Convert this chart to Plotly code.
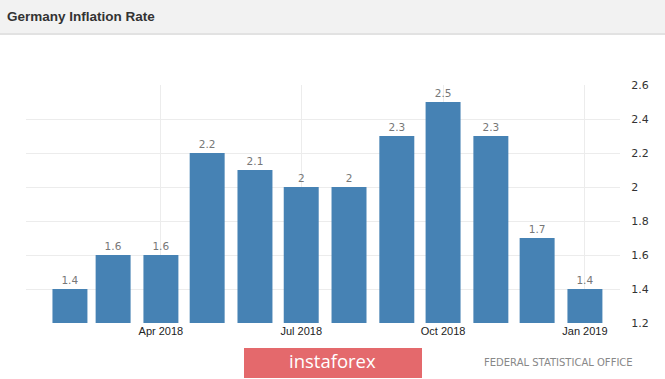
import plotly.graph_objects as go

months = ["2018-02-01", "2018-03-01", "2018-04-01", "2018-05-01", "2018-06-01", "2018-07-01",
          "2018-08-01", "2018-09-01", "2018-10-01", "2018-11-01", "2018-12-01", "2019-01-01"]
values = [1.4, 1.6, 1.6, 2.2, 2.1, 2.0, 2.0, 2.3, 2.5, 2.3, 1.7, 1.4]
value_labels = ["1.4", "1.6", "1.6", "2.2", "2.1", "2", "2", "2.3", "2.5", "2.3", "1.7", "1.4"]
y_ticks = [1.2, 1.4, 1.6, 1.8, 2.0, 2.2, 2.4, 2.6]
y_tick_labels = ["1.2", "1.4", "1.6", "1.8", "2", "2.2", "2.4", "2.6"]

W, H = 665, 379
L, R, T, B = 26, 620, 85, 323


def px(x):
    return (x - L) / (R - L)


def py(y):
    return (B - y) / (B - T)


fig = go.Figure()
fig.add_trace(go.Bar(
    x=months, y=values, text=value_labels, textposition="outside",
    textfont=dict(family="DejaVu Sans", size=10.5, color="#777777"),
    marker=dict(color="#4682b4", line=dict(width=0)),
    cliponaxis=False, hoverinfo="skip",
))

fig.update_layout(
    width=W, height=H,
    margin=dict(l=L, r=W - R, t=T, b=H - B),
    paper_bgcolor="white", plot_bgcolor="white",
    bargap=0.19,
    showlegend=False,
    xaxis=dict(
        type="date", range=["2018-01-03 12:00", "2019-01-23 18:00"],
        tick0="2018-01-01", dtick="M3", tickformat="%b %Y",
        showgrid=True, gridcolor="#ececec", gridwidth=1,
        tickfont=dict(family="Liberation Sans", size=11, color="#222222"),
        ticks="", zeroline=False, showline=False,
    ),
    yaxis=dict(
        side="right", range=[1.2, 2.6], tickvals=y_ticks, ticktext=y_tick_labels,
        showgrid=True, gridcolor="#ececec", gridwidth=1,
        tickfont=dict(family="DejaVu Sans", size=11, color="#333333"),
        ticks="outside", ticklen=8, tickcolor="white",
        zeroline=False, showline=False,
    ),
    shapes=[
        dict(type="rect", xref="paper", yref="paper", x0=px(0), x1=px(W), y0=py(33), y1=py(0),
             fillcolor="#f2f2f2", line=dict(width=0), layer="below"),
        dict(type="line", xref="paper", yref="paper", x0=px(0), x1=px(W), y0=py(34), y1=py(34),
             line=dict(color="#e2e2e2", width=2)),
        dict(type="rect", xref="paper", yref="paper", x0=px(244), x1=px(422), y0=py(378), y1=py(348),
             fillcolor="#e4696c", line=dict(width=0)),
    ],
    annotations=[
        dict(text="<b>Germany Inflation Rate</b>", xref="paper", yref="paper", x=px(5), y=py(17),
             xanchor="left", yanchor="middle", showarrow=False,
             font=dict(family="Liberation Sans", size=13.5, color="#333333")),
        dict(text="instaforex", xref="paper", yref="paper", x=px(332), y=py(361),
             xanchor="center", yanchor="middle", showarrow=False,
             font=dict(family="Open Sans", size=18.5, color="white")),
        dict(text="FEDERAL STATISTICAL OFFICE", xref="paper", yref="paper", x=px(635), y=py(362),
             xanchor="right", yanchor="middle", showarrow=False,
             font=dict(family="DejaVu Sans", size=10, color="#888888")),
    ],
)

fig.write_html("out.html", config={"displayModeBar": False},
               post_script="document.body.style.margin='0';document.body.style.padding='0';"
                           "document.documentElement.style.overflow='hidden';")
